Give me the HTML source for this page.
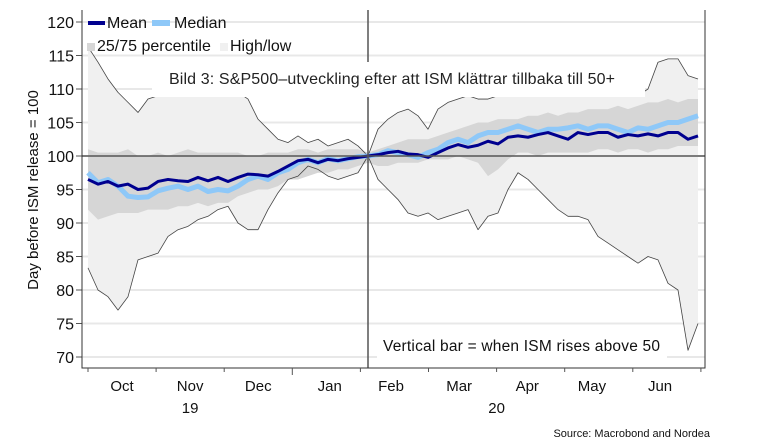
<!DOCTYPE html>
<html><head><meta charset="utf-8"><style>
body{margin:0;background:#fff;width:767px;height:447px;overflow:hidden}
svg{display:block;font-family:"Liberation Sans",sans-serif}
</style></head><body>
<svg id="c" width="767" height="447">
<g id="grid"></g>
<g id="bands"></g>
<g id="lines"></g>
<g id="axes"></g>
</svg>
<script>
const highVals=[116.3,114,111.5,109.5,108,106.5,108.5,109,109.5,110,110.5,111,111,110.5,110,109.5,108.5,105.5,104,102.5,102,103,102,102.5,101.5,102,102.5,101.5,100,104,105.5,106.5,107,106,104,107,108,108.5,109,108.5,108.5,109,109,109,109,109,109,109,109,109,109,109,109,109,109,109,110,114,114.5,114.5,112,111.5];
const lowVals=[83.3,80,79,77,79,84.5,85,85.5,88,89,89.5,90.5,91,92,92.5,90,89,89,92,94.5,96.5,97,98.5,98,97,96.5,97,97.5,100,96.5,95,93.5,91.5,91,91.5,90.5,91,91.5,92,89,91,91.5,95,97.5,96.5,95,93.5,92,91,91,90.5,88,87,86,85,84,85,84.5,81,80,71,75];
const p75Vals=[101,100.5,100.5,100.5,101,100,100,100.5,100,100.5,101,100.5,100.5,100.5,100.5,100.5,100,100,100.5,100.5,100.5,101,101,100.5,101,101,101,101,100.5,101,101.5,102,102.5,102.5,102.5,103,103.5,104,104.5,105,105,105.5,105.5,105.5,106,106,106.5,106,106.5,106.5,107,107,107,107.5,107,107.5,108,108,108.5,108,108.5,108.5];
const p25Vals=[92,90.5,91,91.5,91.5,91.5,92,92,92,92.5,92.5,93,92.5,93,93,94,94.5,95,95,95.5,96.5,96.5,97,97.5,97.5,98,98,98.5,99,98.5,98.5,99,99,99,99.5,99.5,99.5,100,99.5,99,97,98,99.5,100.5,100.5,100,100.5,100.5,100.5,100.5,100.5,101,101,100.5,101,101,100.5,101,101,101.5,101.5,101.5];
const meanVals=[96.5,95.8,96.2,95.5,95.8,95,95.2,96.2,96.5,96.3,96.2,96.8,96.3,96.8,96.2,96.8,97.3,97.2,97,97.7,98.5,99.3,99.5,99,99.5,99.3,99.6,99.8,100,100.2,100.5,100.7,100.3,100.2,99.8,100.5,101.2,101.7,101.3,101.6,102.2,101.8,102.8,103,102.8,103.2,103.5,103,102.5,103.5,103.2,103.5,103.5,102.8,103.2,103,103.3,103,103.5,103.5,102.5,103];
const medianVals=[97.5,96,96.5,95.5,94,93.8,93.9,94.8,95.2,95.5,95,95.5,94.7,95,94.8,95.5,96.5,97,96.5,97.5,98,99,99.5,99,99.6,99.3,99.6,99.9,100,100.2,100.8,100.5,100.2,99.8,100.5,101,102,102.5,102,103,103.5,103.5,104,104.5,104,103.5,104,104,104.2,104.5,104,104.5,104.5,104,103.5,104.2,104,104.5,105,105,105.5,106];
const yTicks=[70,75,80,85,90,95,100,105,110,115,120];
const monthLabels=["Oct","Nov","Dec","Jan","Feb","Mar","Apr","May","Jun"];
const monthPos=[0.5,1.5,2.5,3.55,4.45,5.45,6.45,7.4,8.4];
const yearLabels=["19","20"];
const yearPos=[1.5,6.0];
const ismIndex=28;

const NS="http://www.w3.org/2000/svg";
const L=82,R=705,T=10,B=368;
const x=i=>88+i*(610/(meanVals.length-1));
const y=v=>156-(v-100)*6.7;
const mx=m=>88+m*68.1;
function mk(p,tag,a){const e=document.createElementNS(NS,tag);for(const k in a)e.setAttribute(k,a[k]);p.appendChild(e);return e;}
const g=id=>document.getElementById(id);

yTicks.forEach(t=>{
 const ln=mk(g('grid'),'line',{x1:L,x2:R,y1:y(t),y2:y(t),stroke:'#e8e8e8','stroke-width':2});
 
 
 const tk=mk(g('axes'),'line',{x1:L-6,x2:L,y1:y(t),y2:y(t),stroke:'#555'});
 
 
 const tx=mk(g('axes'),'text',{x:L-8,y:y(t)+6,'text-anchor':'end','font-size':16,fill:'#111'});
 tx.textContent=t;
 
 
});

function band(a,b,fill,name){
 let d='M'+a.map((v,i)=>x(i)+','+y(v)).join('L');
 for(let i=b.length-1;i>=0;i--)d+='L'+x(i)+','+y(b[i]);
 const p=mk(g('bands'),'path',{d:d+'Z',fill:fill});
 
 
}
band(highVals,lowVals,'#f0f0f0','high-low-band');
band(p75Vals,p25Vals,'#d6d6d6','percentile-band');
function line(a,stroke,w,name){
 const p=mk(g('lines'),'path',{d:'M'+a.map((v,i)=>x(i)+','+y(v)).join('L'),fill:'none',stroke:stroke,'stroke-width':w,'stroke-linejoin':'round'});
 
 
}
line(highVals,'#444',0.8,'high-line');
line(lowVals,'#444',0.8,'low-line');
line(medianVals,'#8ec8f8',5,'median-line');
line(meanVals,'#00008f',3,'mean-line');

const ax=g('axes');
let e;
e=mk(ax,'line',{x1:L,x2:R,y1:y(100),y2:y(100),stroke:'#555','stroke-width':1.5});

e=mk(ax,'line',{x1:x(ismIndex),x2:x(ismIndex),y1:T,y2:B,stroke:'#555','stroke-width':1.5});

e=mk(ax,'rect',{x:152,y:62,width:493,height:35,fill:'#fff'});

e=mk(ax,'text',{x:169,y:84,'font-size':16,fill:'#222',textLength:446});e.textContent='Bild 3: S&P500\u2013utveckling efter att ISM klättrar tillbaka till 50+';

e=mk(ax,'rect',{x:377,y:332,width:290,height:27,fill:'#fff'});

e=mk(ax,'text',{x:383,y:351,'font-size':15.5,fill:'#111',textLength:277});e.textContent='Vertical bar = when ISM rises above 50';

e=mk(ax,'path',{d:`M${L},${T}V${B}H${R}V${T}`,fill:'none',stroke:'#333','stroke-width':1});

for(let m=0;m<=9;m++){
 e=mk(ax,'line',{x1:mx(m),x2:mx(m),y1:B,y2:B+(m===3?7:4),stroke:'#555'});
 
}
monthLabels.forEach((t,i)=>{
 e=mk(ax,'text',{x:mx(monthPos[i]),y:391,'text-anchor':'middle','font-size':15,fill:'#111'});e.textContent=t;
 
});
yearLabels.forEach((t,i)=>{
 e=mk(ax,'text',{x:mx(yearPos[i]),y:413,'text-anchor':'middle','font-size':15,fill:'#111'});e.textContent=t;
 
});
e=mk(ax,'text',{x:0,y:0,'font-size':15,fill:'#111','text-anchor':'middle',transform:'translate(38,190) rotate(-90)'});e.textContent='Day before ISM release = 100';

e=mk(ax,'text',{x:710,y:437,'font-size':11,fill:'#111','text-anchor':'end'});e.textContent='Source: Macrobond and Nordea';

e=mk(ax,'rect',{x:88,y:21,width:17,height:4,fill:'#00008f'});
e=mk(ax,'text',{x:107,y:28,'font-size':16,fill:'#111'});e.textContent='Mean';
e=mk(ax,'rect',{x:152,y:20,width:18,height:6,fill:'#8ec8f8'});
e=mk(ax,'text',{x:174,y:28,'font-size':16,fill:'#111'});e.textContent='Median';
e=mk(ax,'rect',{x:87,y:43,width:8,height:8,fill:'#d6d6d6'});
e=mk(ax,'text',{x:97,y:51,'font-size':16,fill:'#111'});e.textContent='25/75 percentile';
e=mk(ax,'rect',{x:220,y:43,width:8,height:8,fill:'#f0f0f0'});
e=mk(ax,'text',{x:230,y:51,'font-size':16,fill:'#111'});e.textContent='High/low';
</script>
</body></html>
